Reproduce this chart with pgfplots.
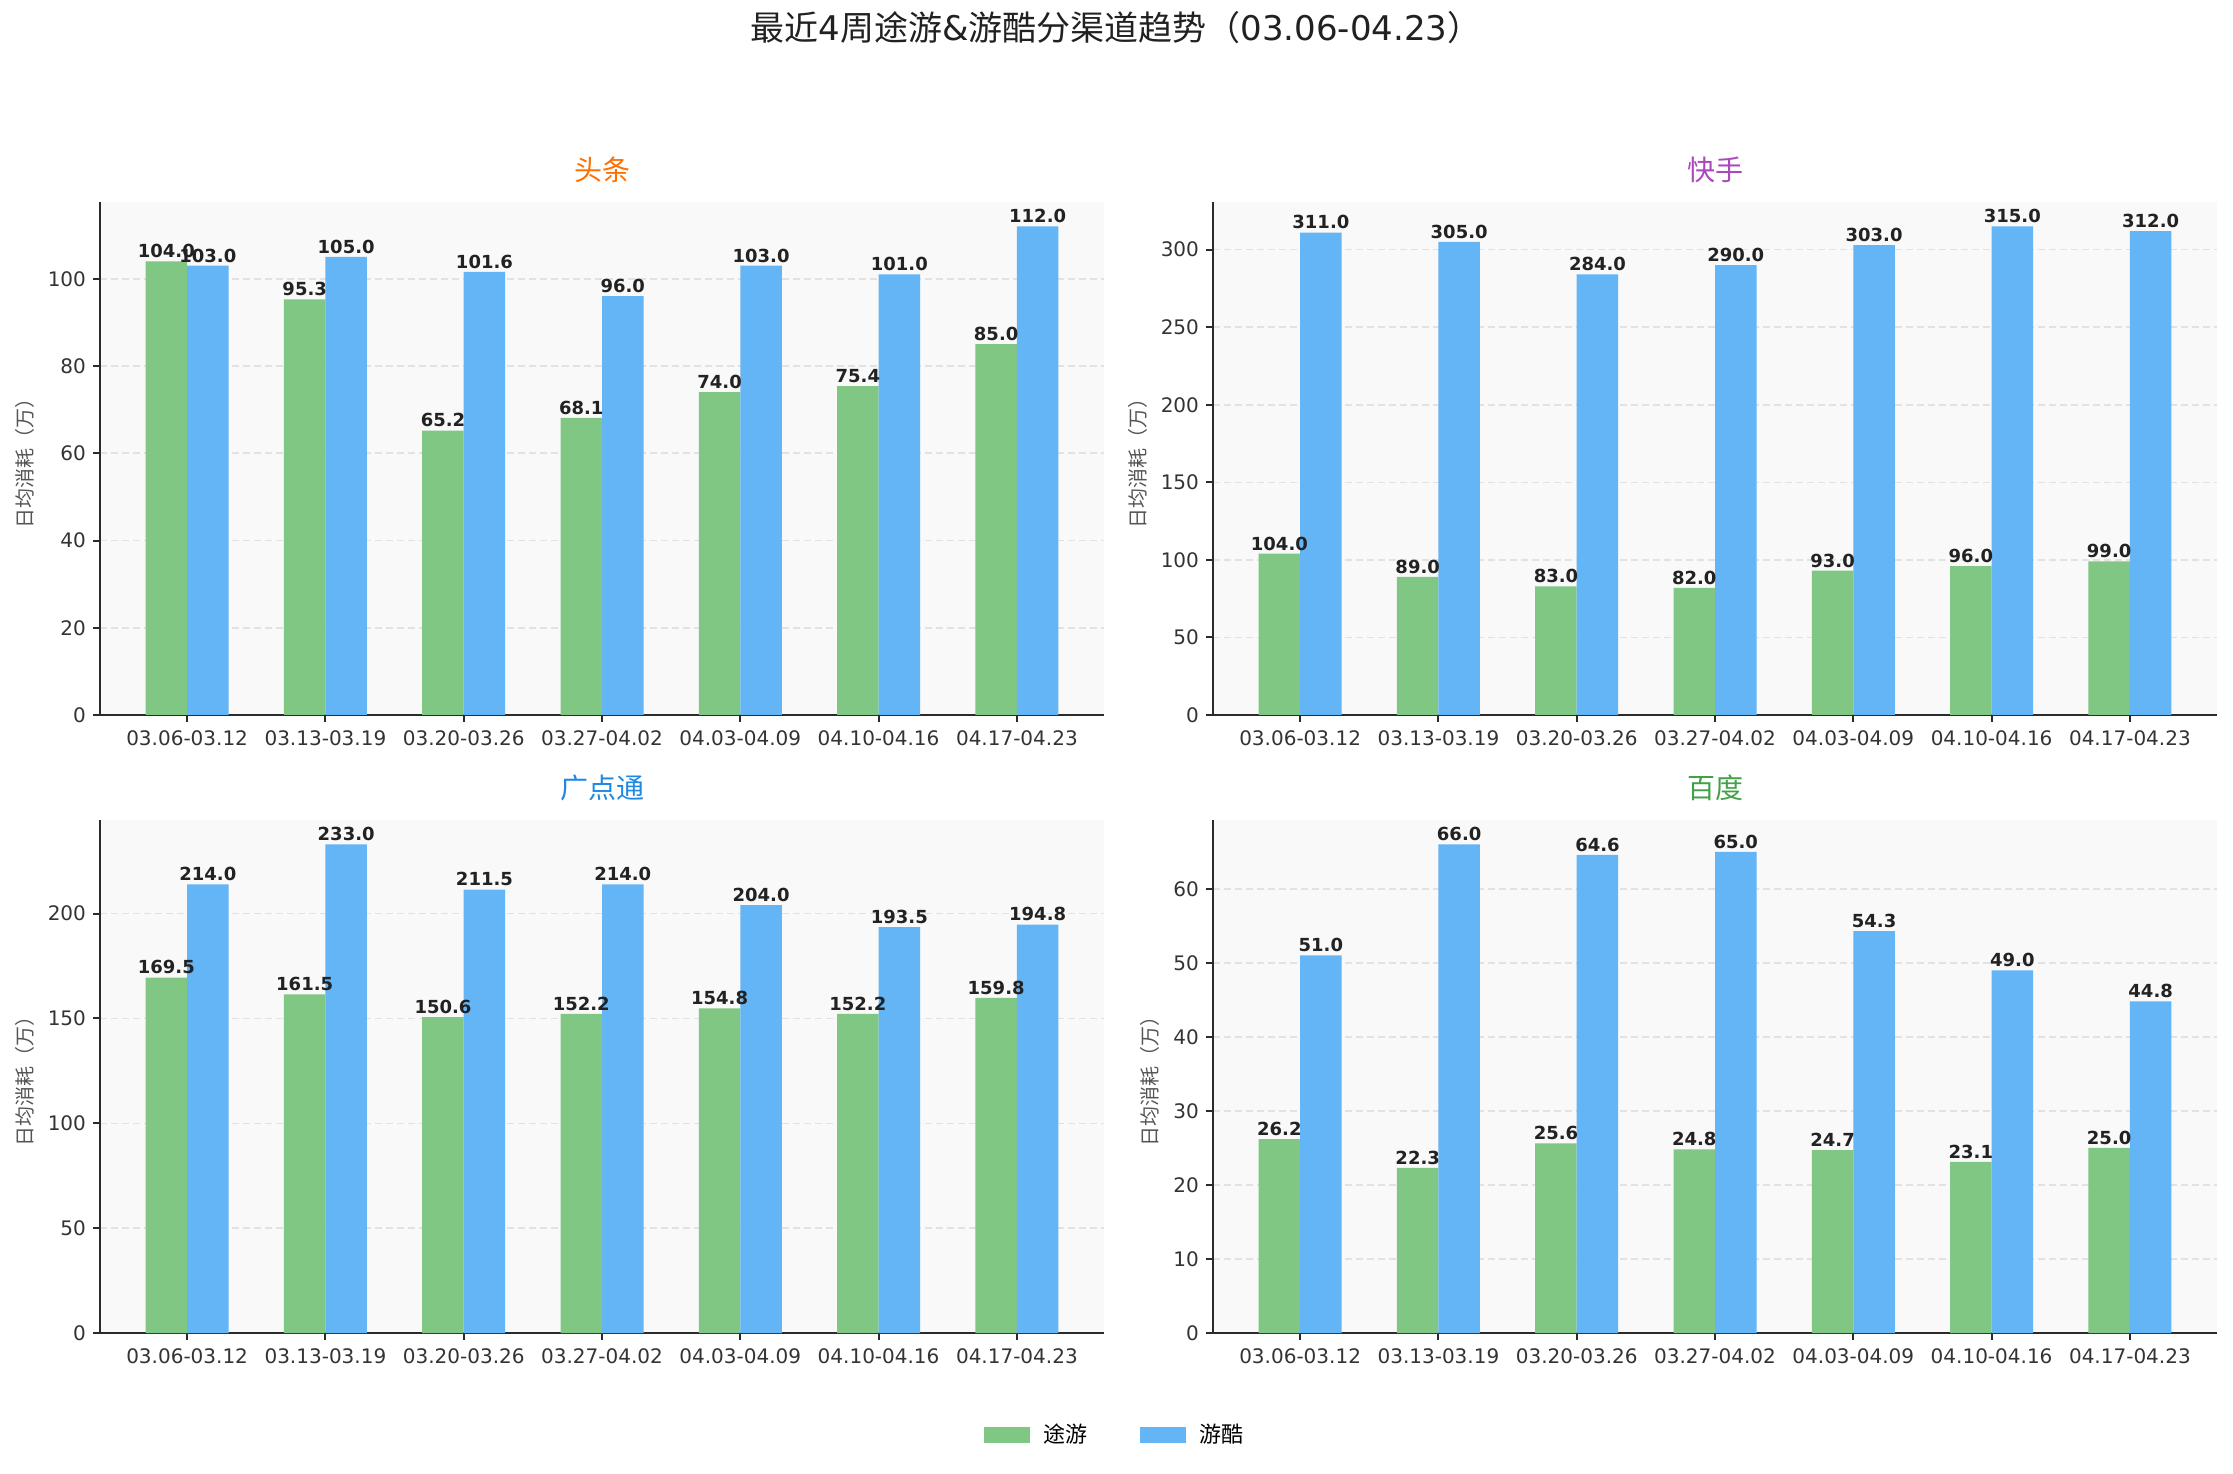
\documentclass[border=0pt]{standalone}
\usepackage{fontspec}
\setmainfont{DejaVu Sans}
\newfontfamily\cjk{Noto Sans CJK SC}
\usepackage{pgfplots}
\pgfplotsset{compat=1.18}
\definecolor{bgc}{HTML}{F9F9F9}
\definecolor{axc}{HTML}{2B2B2B}
\definecolor{tickc}{HTML}{333333}
\definecolor{labc}{HTML}{555555}
\definecolor{gridc}{HTML}{E2E2E2}
\definecolor{numc}{HTML}{222222}
\definecolor{cgreen}{HTML}{81C784}
\definecolor{cblue}{HTML}{64B5F6}
\definecolor{torange}{HTML}{FF6F00}
\definecolor{tpurple}{HTML}{AB47BC}
\definecolor{tblue}{HTML}{1E88E5}
\definecolor{tgreen}{HTML}{43A047}
\pgfplotsset{
  panel/.style={
    width=502pt, height=256.5pt, scale only axis, anchor=south west,
    axis background/.style={fill=bgc},
    axis x line*=bottom, axis y line*=left,
    axis line style={draw=axc, line width=1pt},
    tick align=outside, major tick length=3.5pt,
    tick style={draw=axc, line width=1pt},
    ymajorgrids, grid style={draw=gridc, line width=0.8pt, dash pattern=on 3.5pt off 2pt},
    xmin=-0.63, xmax=6.63, ymin=0,
    xtick={0,1,2,3,4,5,6},
    xticklabels={03.06-03.12,03.13-03.19,03.20-03.26,03.27-04.02,04.03-04.09,04.10-04.16,04.17-04.23},
    /pgf/number format/assume math mode=true,
    ticklabel style={font=\fontsize{10}{12}\selectfont, color=tickc},
    xticklabel style={yshift=-1pt},
    ylabel={\cjk 日均消耗（万）},
    ylabel style={font=\fontsize{10}{12}\selectfont, color=labc},
    title style={font=\fontsize{14}{16}\selectfont, at={(0.5,1)}, anchor=center, yshift=10pt},
    ybar, bar width=0.3,
    clip=false,
    nodes near coords={\pgfmathprintnumber[fixed,zerofill,precision=1,assume math mode=true]{\pgfplotspointmeta}},
    nodes near coords style={font=\fontsize{9}{11}\selectfont\bfseries, color=numc, anchor=south, inner sep=1.5pt},
  },
  gbar/.style={fill=cgreen, draw=none, bar shift=-0.15},
  bbar/.style={fill=cblue, draw=none, bar shift=0.15},
}
\begin{document}
\begin{tikzpicture}
\useasboundingbox (0,0) rectangle (1116.5pt,736.5pt);
\node[font=\fontsize{17}{20}\selectfont, color=black!87] at (558pt,722.5pt) {{\cjk 最近}4{\cjk 周途游}\&{\cjk 游酷分渠道趋势（}03.06-04.23{\cjk ）}};

% 头条
\begin{axis}[panel, at={(50pt,379pt)}, ymax=117.6, ytick={0,20,40,60,80,100},
  title={\cjk 头条}, title style={color=torange}]
\addplot[gbar] coordinates {(0,104.0) (1,95.3) (2,65.2) (3,68.1) (4,74.0) (5,75.4) (6,85.0)};
\addplot[bbar] coordinates {(0,103.0) (1,105.0) (2,101.6) (3,96.0) (4,103.0) (5,101.0) (6,112.0)};
\end{axis}

% 快手
\begin{axis}[panel, at={(606.5pt,379pt)}, ymax=330.75, ytick={0,50,100,150,200,250,300},
  title={\cjk 快手}, title style={color=tpurple}]
\addplot[gbar] coordinates {(0,104.0) (1,89.0) (2,83.0) (3,82.0) (4,93.0) (5,96.0) (6,99.0)};
\addplot[bbar] coordinates {(0,311.0) (1,305.0) (2,284.0) (3,290.0) (4,303.0) (5,315.0) (6,312.0)};
\end{axis}

% 广点通
\begin{axis}[panel, at={(50pt,70pt)}, ymax=244.65, ytick={0,50,100,150,200},
  title={\cjk 广点通}, title style={color=tblue},
  legend columns=2,
  legend style={at={(1.0115,-0.199)}, anchor=center, draw=none, fill=none,
    font=\fontsize{11}{13}\selectfont,
    /tikz/every odd column/.append style={column sep=5pt},
    /tikz/every even column/.append style={column sep=24pt}}]
\addplot[gbar, legend image code/.code={\fill[cgreen] (0pt,-4pt) rectangle (23pt,4pt);}] coordinates {(0,169.5) (1,161.5) (2,150.6) (3,152.2) (4,154.8) (5,152.2) (6,159.8)};
\addlegendentry{\cjk 途游}
\addplot[bbar, legend image code/.code={\fill[cblue] (0pt,-4pt) rectangle (23pt,4pt);}] coordinates {(0,214.0) (1,233.0) (2,211.5) (3,214.0) (4,204.0) (5,193.5) (6,194.8)};
\addlegendentry{\cjk 游酷}
\end{axis}

% 百度
\begin{axis}[panel, at={(606.5pt,70pt)}, ymax=69.3, ytick={0,10,20,30,40,50,60},
  title={\cjk 百度}, title style={color=tgreen}]
\addplot[gbar] coordinates {(0,26.2) (1,22.3) (2,25.6) (3,24.8) (4,24.7) (5,23.1) (6,25.0)};
\addplot[bbar] coordinates {(0,51.0) (1,66.0) (2,64.6) (3,65.0) (4,54.3) (5,49.0) (6,44.8)};
\end{axis}
\end{tikzpicture}
\end{document}
